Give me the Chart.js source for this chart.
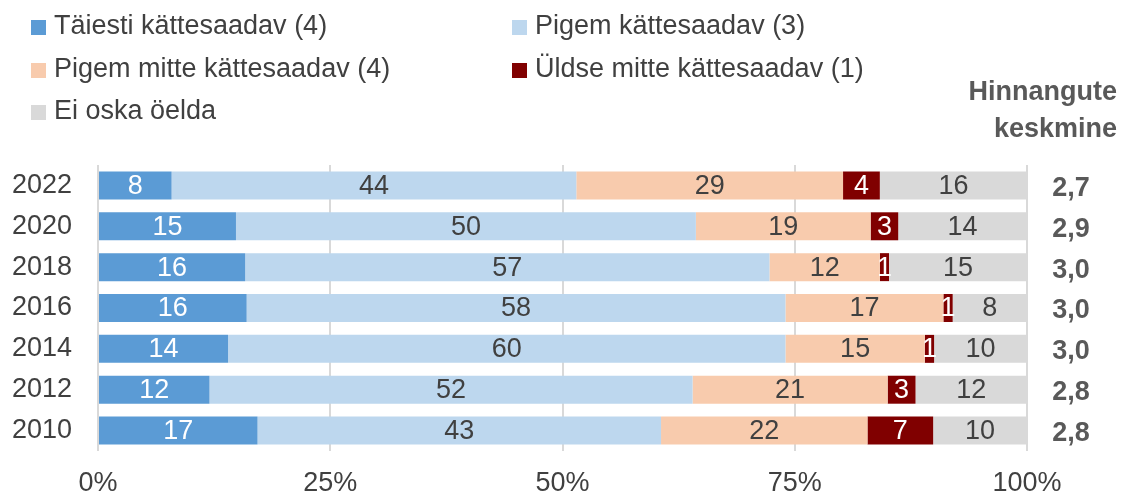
<!DOCTYPE html>
<html>
<head>
<meta charset="utf-8">
<script src="https://cdn.jsdelivr.net/npm/chart.js@4.4.1/dist/chart.umd.min.js"></script>
<style>
  html, body { margin: 0; padding: 0; background: #fff; }
  #wrap { width: 1128px; height: 495px; }
</style>
</head>
<body>
<div id="wrap"><canvas id="chart" width="1128" height="495"></canvas></div>
<script>
const years = ['2022', '2020', '2018', '2016', '2014', '2012', '2010'];
const seriesNames = [
    'Täiesti kättesaadav (4)',
    'Pigem kättesaadav (3)',
    'Pigem mitte kättesaadav (4)',
    'Üldse mitte kättesaadav (1)',
    'Ei oska öelda'
];
const fullyAvailable = [8, 15, 16, 16, 14, 12, 17];
const ratherAvailable = [44, 50, 57, 58, 60, 52, 43];
const ratherNotAvailable = [29, 19, 12, 17, 15, 21, 22];
const notAvailable = [4, 3, 1, 1, 1, 3, 7];
const dontKnow = [16, 14, 15, 8, 10, 12, 10];
const averages = ['2,7', '2,9', '3,0', '3,0', '3,0', '2,8', '2,8'];
const xTicks = [0, 25, 50, 75, 100];

const FONT = '"Liberation Sans", Arial, sans-serif';
const TEXT = '#404040';

const colors = ['#5b9bd5', '#bdd7ee', '#f8cbad', '#800000', '#d9d9d9'];
const labelColors = ['#ffffff', TEXT, TEXT, '#ffffff', TEXT];
const rawSeries = [fullyAvailable, ratherAvailable, ratherNotAvailable, notAvailable, dontKnow];

// rows don't always add up to 100, so scale each row like a 100% stacked bar
const rowTotals = years.map((y, i) => rawSeries.reduce((s, arr) => s + arr[i], 0));

const datasets = rawSeries.map((arr, k) => ({
    label: seriesNames[k],
    data: arr.map((v, i) => v / rowTotals[i] * 100),
    raw: arr,
    backgroundColor: colors[k],
    labelColor: labelColors[k],
    borderWidth: 0,
    barPercentage: 0.685,
    categoryPercentage: 1
}));

const extrasPlugin = {
    id: 'extras',
    afterDatasetsDraw(chart) {
        const ctx = chart.ctx;
        ctx.save();
        ctx.textAlign = 'center';
        ctx.textBaseline = 'middle';
        ctx.font = '27px ' + FONT;
        chart.data.datasets.forEach((ds, k) => {
            const meta = chart.getDatasetMeta(k);
            meta.data.forEach((bar, i) => {
                const p = bar.getProps(['x', 'y', 'base'], true);
                ctx.fillStyle = ds.labelColor;
                ctx.fillText(String(ds.raw[i]), (p.x + p.base) / 2, p.y + 1);
            });
        });

        // averages column
        const yScale = chart.scales.y;
        ctx.font = 'bold 27px ' + FONT;
        ctx.fillStyle = '#595959';
        averages.forEach((a, i) => {
            ctx.fillText(a, 1071, yScale.getPixelForValue(i) + 3);
        });
        ctx.textAlign = 'right';
        ctx.fillText('Hinnangute', 1117, 93);
        ctx.fillText('keskmine', 1117, 130);

        // legend
        const cols = [31, 512];
        const rows = [27, 70, 112];
        ctx.textAlign = 'left';
        ctx.font = '27px ' + FONT;
        chart.data.datasets.forEach((ds, k) => {
            const cx = cols[k % 2];
            const cy = rows[Math.floor(k / 2)];
            ctx.fillStyle = ds.backgroundColor;
            ctx.fillRect(cx, cy - 7, 15, 15);
            ctx.fillStyle = TEXT;
            ctx.fillText(ds.label, cx + 23, cy);
        });
        ctx.restore();
    }
};

new Chart(document.getElementById('chart'), {
    type: 'bar',
    data: { labels: years, datasets: datasets },
    plugins: [extrasPlugin],
    options: {
        indexAxis: 'y',
        responsive: false,
        animation: false,
        devicePixelRatio: 1,
        layout: { padding: { top: 165, right: 101, left: 0, bottom: 0 } },
        plugins: {
            legend: { display: false },
            tooltip: { enabled: false }
        },
        scales: {
            x: {
                stacked: true,
                min: 0,
                max: 100,
                afterBuildTicks: s => { s.ticks = xTicks.map(v => ({ value: v })); },
                afterFit: s => { s.height = 44; },
                ticks: {
                    callback: v => v + '%',
                    color: TEXT,
                    font: { family: FONT, size: 27 },
                    padding: 16,
                    maxRotation: 0
                },
                grid: { color: '#d9d9d9', lineWidth: 2, drawTicks: false },
                border: { display: false }
            },
            y: {
                stacked: true,
                afterFit: s => { s.width = 98; },
                ticks: {
                    color: TEXT,
                    font: { family: FONT, size: 27 },
                    padding: 18
                },
                grid: { display: false },
                border: { display: false }
            }
        }
    }
});
</script>
</body>
</html>
